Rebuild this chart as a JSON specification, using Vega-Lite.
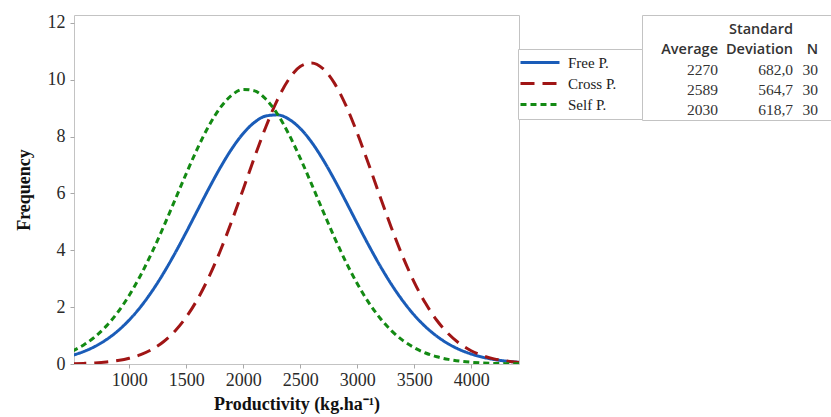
{
  "$schema": "https://vega.github.io/schema/vega-lite/v6.json",
  "padding": {"left": 14, "top": 13, "right": 0, "bottom": 0},
  "background": "white",
  "spacing": 121,
  "config": {
    "view": {"stroke": "#c3c3c3", "strokeWidth": 1},
    "axis": {
      "grid": false,
      "domain": false,
      "tickColor": "#a8a8a8",
      "tickSize": 4,
      "labelFont": "Liberation Serif",
      "labelFontSize": 18,
      "labelColor": "#2a2a2a",
      "titleFont": "Liberation Serif",
      "titleFontSize": 18,
      "titleFontWeight": "bold",
      "titleColor": "#111111"
    }
  },
  "datasets": {
    "curves": [
      {"series":"Free P.","productivity":500,"frequency":0.302},{"series":"Free P.","productivity":600,"frequency":0.438},{"series":"Free P.","productivity":700,"frequency":0.620},{"series":"Free P.","productivity":800,"frequency":0.860},{"series":"Free P.","productivity":900,"frequency":1.167},{"series":"Free P.","productivity":1000,"frequency":1.550},{"series":"Free P.","productivity":1100,"frequency":2.014},{"series":"Free P.","productivity":1200,"frequency":2.563},{"series":"Free P.","productivity":1300,"frequency":3.191},{"series":"Free P.","productivity":1400,"frequency":3.889},{"series":"Free P.","productivity":1500,"frequency":4.639},{"series":"Free P.","productivity":1600,"frequency":5.415},{"series":"Free P.","productivity":1700,"frequency":6.187},{"series":"Free P.","productivity":1800,"frequency":6.919},{"series":"Free P.","productivity":1900,"frequency":7.573},{"series":"Free P.","productivity":2000,"frequency":8.113},{"series":"Free P.","productivity":2100,"frequency":8.506},{"series":"Free P.","productivity":2200,"frequency":8.728},{"series":"Free P.","productivity":2300,"frequency":8.766},{"series":"Free P.","productivity":2400,"frequency":8.616},{"series":"Free P.","productivity":2500,"frequency":8.289},{"series":"Free P.","productivity":2600,"frequency":7.805},{"series":"Free P.","productivity":2700,"frequency":7.192},{"series":"Free P.","productivity":2800,"frequency":6.487},{"series":"Free P.","productivity":2900,"frequency":5.727},{"series":"Free P.","productivity":3000,"frequency":4.948},{"series":"Free P.","productivity":3100,"frequency":4.184},{"series":"Free P.","productivity":3200,"frequency":3.463},{"series":"Free P.","productivity":3300,"frequency":2.805},{"series":"Free P.","productivity":3400,"frequency":2.224},{"series":"Free P.","productivity":3500,"frequency":1.725},{"series":"Free P.","productivity":3600,"frequency":1.310},{"series":"Free P.","productivity":3700,"frequency":0.974},{"series":"Free P.","productivity":3800,"frequency":0.709},{"series":"Free P.","productivity":3900,"frequency":0.504},{"series":"Free P.","productivity":4000,"frequency":0.352},{"series":"Free P.","productivity":4100,"frequency":0.240},{"series":"Free P.","productivity":4200,"frequency":0.160},{"series":"Free P.","productivity":4300,"frequency":0.105},{"series":"Free P.","productivity":4400,"frequency":0.067},{"series":"Free P.","productivity":4500,"frequency":0.042},
      {"series":"Cross P.","productivity":500,"frequency":0.011},{"series":"Cross P.","productivity":600,"frequency":0.021},{"series":"Cross P.","productivity":700,"frequency":0.039},{"series":"Cross P.","productivity":800,"frequency":0.070},{"series":"Cross P.","productivity":900,"frequency":0.121},{"series":"Cross P.","productivity":1000,"frequency":0.202},{"series":"Cross P.","productivity":1100,"frequency":0.328},{"series":"Cross P.","productivity":1200,"frequency":0.515},{"series":"Cross P.","productivity":1300,"frequency":0.783},{"series":"Cross P.","productivity":1400,"frequency":1.155},{"series":"Cross P.","productivity":1500,"frequency":1.651},{"series":"Cross P.","productivity":1600,"frequency":2.286},{"series":"Cross P.","productivity":1700,"frequency":3.069},{"series":"Cross P.","productivity":1800,"frequency":3.993},{"series":"Cross P.","productivity":1900,"frequency":5.034},{"series":"Cross P.","productivity":2000,"frequency":6.151},{"series":"Cross P.","productivity":2100,"frequency":7.284},{"series":"Cross P.","productivity":2200,"frequency":8.359},{"series":"Cross P.","productivity":2300,"frequency":9.296},{"series":"Cross P.","productivity":2400,"frequency":10.020},{"series":"Cross P.","productivity":2500,"frequency":10.466},{"series":"Cross P.","productivity":2600,"frequency":10.595},{"series":"Cross P.","productivity":2700,"frequency":10.394},{"series":"Cross P.","productivity":2800,"frequency":9.883},{"series":"Cross P.","productivity":2900,"frequency":9.106},{"series":"Cross P.","productivity":3000,"frequency":8.131},{"series":"Cross P.","productivity":3100,"frequency":7.037},{"series":"Cross P.","productivity":3200,"frequency":5.902},{"series":"Cross P.","productivity":3300,"frequency":4.797},{"series":"Cross P.","productivity":3400,"frequency":3.778},{"series":"Cross P.","productivity":3500,"frequency":2.884},{"series":"Cross P.","productivity":3600,"frequency":2.134},{"series":"Cross P.","productivity":3700,"frequency":1.530},{"series":"Cross P.","productivity":3800,"frequency":1.063},{"series":"Cross P.","productivity":3900,"frequency":0.716},{"series":"Cross P.","productivity":4000,"frequency":0.467},{"series":"Cross P.","productivity":4100,"frequency":0.295},{"series":"Cross P.","productivity":4200,"frequency":0.181},{"series":"Cross P.","productivity":4300,"frequency":0.108},{"series":"Cross P.","productivity":4400,"frequency":0.062},{"series":"Cross P.","productivity":4500,"frequency":0.035},
      {"series":"Self P.","productivity":500,"frequency":0.455},{"series":"Self P.","productivity":600,"frequency":0.669},{"series":"Self P.","productivity":700,"frequency":0.960},{"series":"Self P.","productivity":800,"frequency":1.341},{"series":"Self P.","productivity":900,"frequency":1.825},{"series":"Self P.","productivity":1000,"frequency":2.419},{"series":"Self P.","productivity":1100,"frequency":3.125},{"series":"Self P.","productivity":1200,"frequency":3.933},{"series":"Self P.","productivity":1300,"frequency":4.822},{"series":"Self P.","productivity":1400,"frequency":5.759},{"series":"Self P.","productivity":1500,"frequency":6.701},{"series":"Self P.","productivity":1600,"frequency":7.597},{"series":"Self P.","productivity":1700,"frequency":8.390},{"series":"Self P.","productivity":1800,"frequency":9.026},{"series":"Self P.","productivity":1900,"frequency":9.461},{"series":"Self P.","productivity":2000,"frequency":9.661},{"series":"Self P.","productivity":2100,"frequency":9.610},{"series":"Self P.","productivity":2200,"frequency":9.314},{"series":"Self P.","productivity":2300,"frequency":8.794},{"series":"Self P.","productivity":2400,"frequency":8.088},{"series":"Self P.","productivity":2500,"frequency":7.248},{"series":"Self P.","productivity":2600,"frequency":6.327},{"series":"Self P.","productivity":2700,"frequency":5.381},{"series":"Self P.","productivity":2800,"frequency":4.458},{"series":"Self P.","productivity":2900,"frequency":3.599},{"series":"Self P.","productivity":3000,"frequency":2.830},{"series":"Self P.","productivity":3100,"frequency":2.168},{"series":"Self P.","productivity":3200,"frequency":1.618},{"series":"Self P.","productivity":3300,"frequency":1.176},{"series":"Self P.","productivity":3400,"frequency":0.833},{"series":"Self P.","productivity":3500,"frequency":0.575},{"series":"Self P.","productivity":3600,"frequency":0.387},{"series":"Self P.","productivity":3700,"frequency":0.253},{"series":"Self P.","productivity":3800,"frequency":0.162},{"series":"Self P.","productivity":3900,"frequency":0.100},{"series":"Self P.","productivity":4000,"frequency":0.061},{"series":"Self P.","productivity":4100,"frequency":0.036},{"series":"Self P.","productivity":4200,"frequency":0.021},{"series":"Self P.","productivity":4300,"frequency":0.012},{"series":"Self P.","productivity":4400,"frequency":0.006},{"series":"Self P.","productivity":4500,"frequency":0.003}
    ],
    "header": [
      {"row": "h1", "col": "Deviation", "text": "Standard"},
      {"row": "h2", "col": "Average", "text": "Average"},
      {"row": "h2", "col": "Deviation", "text": "Deviation"},
      {"row": "h2", "col": "N", "text": "N"}
    ],
    "stats": [
      {"row": "Free P.", "Average": "2270", "Deviation": "682,0", "N": "30"},
      {"row": "Cross P.", "Average": "2589", "Deviation": "564,7", "N": "30"},
      {"row": "Self P.", "Average": "2030", "Deviation": "618,7", "N": "30"}
    ]
  },
  "hconcat": [
    {
      "width": 445,
      "height": 349,
      "data": {"name": "curves"},
      "mark": {"type": "line", "strokeWidth": 3, "interpolate": "monotone", "clip": true},
      "encoding": {
        "x": {
          "field": "productivity", "type": "quantitative",
          "scale": {"domain": [515, 4420], "nice": false, "zero": false},
          "axis": {"values": [1000, 1500, 2000, 2500, 3000, 3500, 4000], "format": "d", "labelPadding": 3, "titlePadding": 6},
          "title": "Productivity (kg.ha⁻¹)"
        },
        "y": {
          "field": "frequency", "type": "quantitative",
          "scale": {"domain": [0, 12.28], "nice": false},
          "axis": {"values": [0, 2, 4, 6, 8, 10, 12], "labelPadding": 5, "titlePadding": 14},
          "title": "Frequency"
        },
        "color": {
          "field": "series", "type": "nominal",
          "scale": {"domain": ["Free P.", "Cross P.", "Self P."], "range": ["#1a5cb8", "#a01515", "#138a13"]},
          "legend": {
            "orient": "none", "legendX": 444, "legendY": 34,
            "title": "\u00a0",
            "titleOrient": "right",
            "titlePadding": 20,
            "titleFontSize": 4,
            "strokeColor": "#c3c3c3",
            "fillColor": "white",
            "padding": 6,
            "symbolType": "M-2.2,0H5.6",
            "symbolSize": 100,
            "symbolStrokeWidth": 3,
            "labelFont": "Liberation Serif",
            "labelFontSize": 15,
            "labelColor": "#222222",
            "labelOffset": 29,
            "rowPadding": 5
          }
        },
        "strokeDash": {
          "field": "series", "type": "nominal",
          "scale": {"domain": ["Free P.", "Cross P.", "Self P."], "range": [[1, 0], [14, 8], [6, 4]]},
          "legend": {
            "orient": "none", "legendX": 444, "legendY": 34,
            "title": "\u00a0",
            "titleOrient": "right",
            "titlePadding": 20,
            "titleFontSize": 4,
            "strokeColor": "#c3c3c3",
            "fillColor": "white",
            "padding": 6,
            "symbolType": "M-2.2,0H5.6",
            "symbolSize": 100,
            "symbolStrokeWidth": 3,
            "labelFont": "Liberation Serif",
            "labelFontSize": 15,
            "labelColor": "#222222",
            "labelOffset": 29,
            "rowPadding": 5
          }
        }
      }
    },
    {
      "width": 190,
      "height": 105,
      "layer": [
        {
          "data": {"name": "header"},
          "mark": {"type": "text", "align": "right", "baseline": "middle", "font": "Open Sans", "fontWeight": 600, "fontSize": 14.5, "color": "#333333"},
          "encoding": {
            "x": {"field": "col", "type": "ordinal", "scale": {"type": "point", "padding": 0, "domain": ["Average", "gap1", "gap2", "Deviation", "N"], "range": [76, 176]}, "axis": null},
            "y": {"field": "row", "type": "ordinal", "scale": {"type": "point", "padding": 0, "domain": ["h1", "h2", "Free P.", "Cross P.", "Self P."], "range": [15, 95]}, "axis": null},
            "text": {"field": "text", "type": "nominal"}
          }
        },
        {
          "data": {"name": "stats"},
          "transform": [{"fold": ["Average", "Deviation", "N"], "as": ["col", "text"]}],
          "mark": {"type": "text", "align": "right", "baseline": "middle", "font": "Liberation Serif", "fontSize": 15.5, "color": "#333333"},
          "encoding": {
            "x": {"field": "col", "type": "ordinal", "axis": null},
            "y": {"field": "row", "type": "ordinal", "axis": null},
            "text": {"field": "text", "type": "nominal"}
          }
        }
      ]
    }
  ]
}
